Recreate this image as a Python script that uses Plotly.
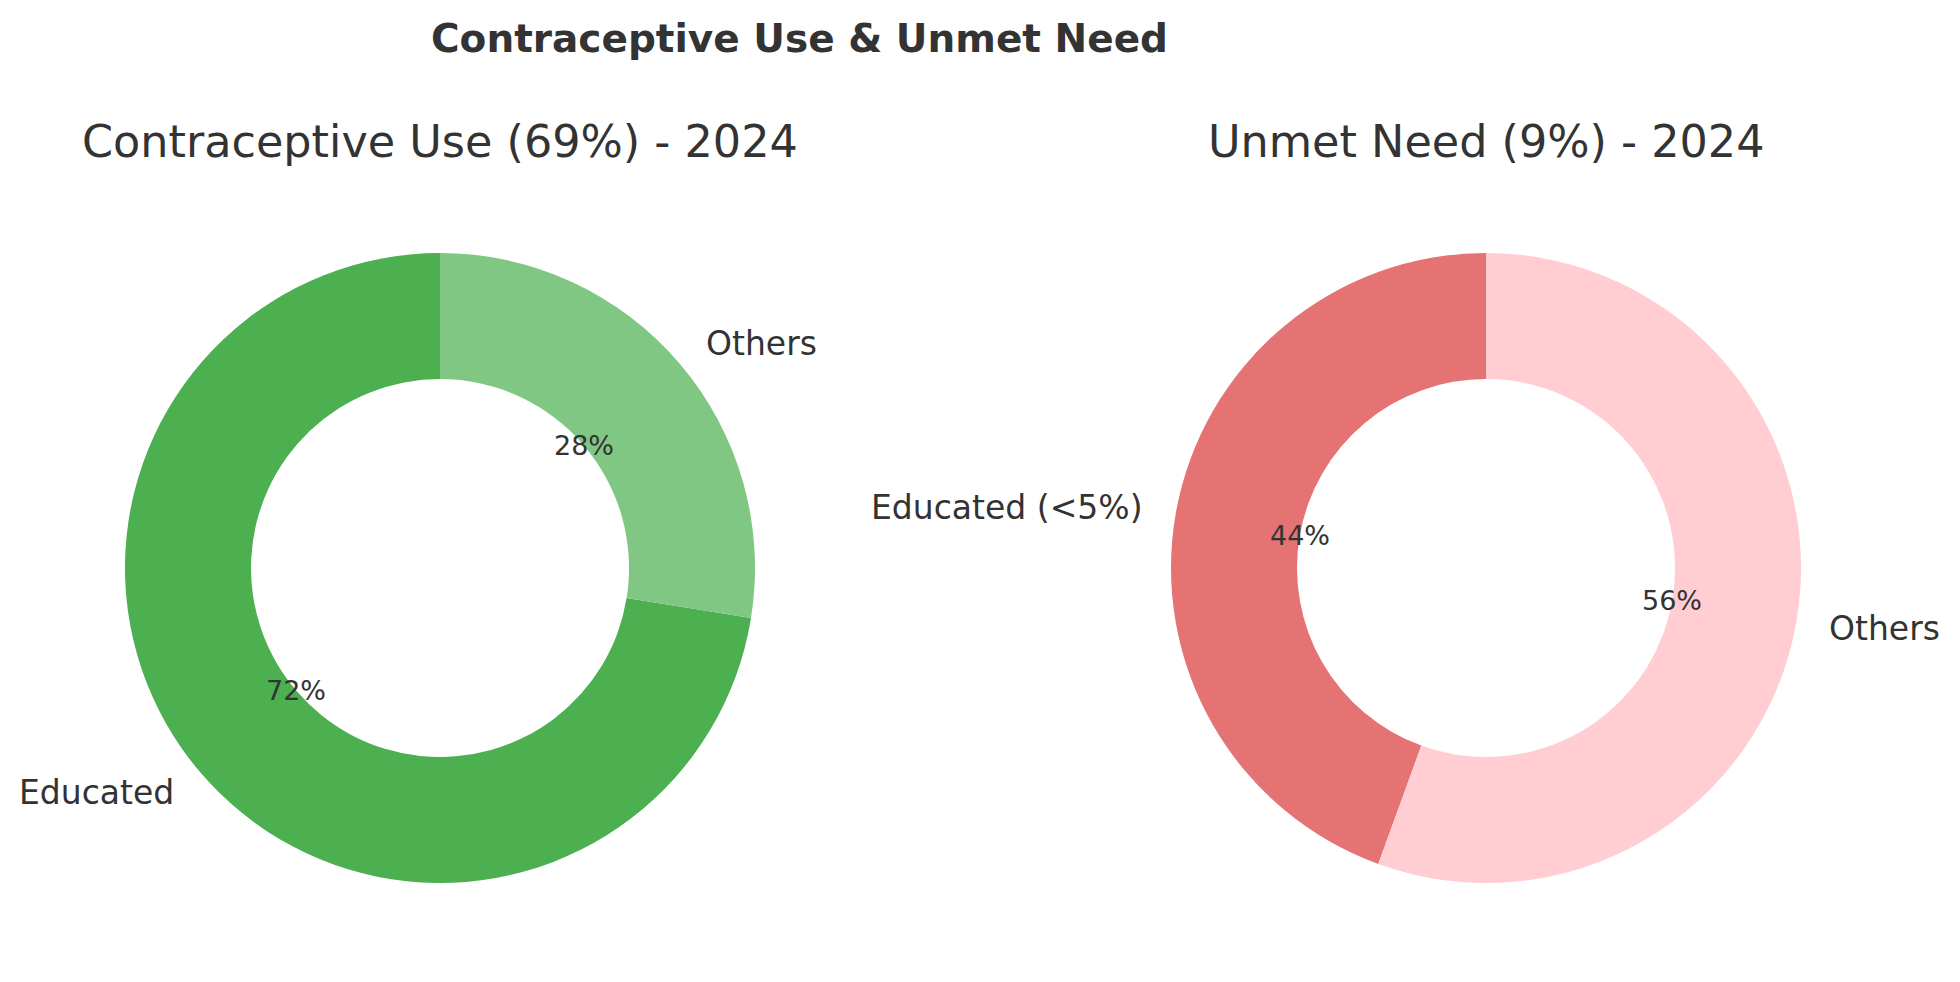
import numpy as np
import plotly.graph_objects as go

# Data
use_labels = ['Educated', 'Others']
use_values = [50, 19]
use_colors = ['#4CAF50', '#81C784']

need_labels = ['Educated (<5%)', 'Others']
need_values = [4, 5]
need_colors = ['#E57373', '#FFCDD2']

title_text = 'Contraceptive Use & Unmet Need'
sub_titles = ['Contraceptive Use (69%) - 2024', 'Unmet Need (9%) - 2024']

# page body has an 8px margin, so the figure is drawn a bit smaller
OFF = 8
W, H = 1960 - 2 * OFF, 982 - 2 * OFF
R = 315                         # outer radius, px
CY = 568 - OFF                  # pie centre from top, px
CX = [440 - OFF, 1486 - OFF]    # pie centres, px
TXT = '#333333'
FONT = 'DejaVu Sans'


def pieDomain(cx, cy, r):
    return dict(x=[(cx - r) / W, (cx + r) / W],
                y=[1 - (cy + r) / H, 1 - (cy - r) / H])


def ringText(labels, values, cx, cy):
    #matplotlib style: labels at 1.1 r, percentages at 0.6 r
    anns = []
    vals = np.array(values, dtype=float)
    frac = vals / vals.sum()
    mids = np.cumsum(frac) - frac / 2
    for lab, f, m in zip(labels, frac, mids):
        th = np.deg2rad(90 + 360 * m)
        c, s = np.cos(th), np.sin(th)
        anns.append(dict(x=(cx + 1.1 * R * c) / W, y=1 - (cy - 1.1 * R * s) / H,
                         text=lab, showarrow=False,
                         xanchor='left' if c > 0 else 'right', yanchor='middle',
                         font=dict(size=33, color=TXT, family=FONT)))
        anns.append(dict(x=(cx + 0.6 * R * c) / W, y=1 - (cy - 0.6 * R * s) / H,
                         text='%1.0f%%' % (f * 100), showarrow=False,
                         xanchor='center', yanchor='middle',
                         font=dict(size=27, color=TXT, family=FONT)))
    return anns


fig = go.Figure()
for labs, vals, cols, cx in [(use_labels, use_values, use_colors, CX[0]),
                             (need_labels, need_values, need_colors, CX[1])]:
    # first slice starts at 12 o'clock and runs counterclockwise
    first_frac = vals[0] / float(sum(vals))
    fig.add_trace(go.Pie(labels=labs, values=vals, hole=0.6, sort=False,
                         direction='clockwise', rotation=360 * (1 - first_frac),
                         marker=dict(colors=cols, line=dict(width=0)),
                         textinfo='none', hoverinfo='label+percent',
                         domain=pieDomain(cx, CY, R), showlegend=False))

annotations = []
annotations += ringText(use_labels, use_values, CX[0], CY)
annotations += ringText(need_labels, need_values, CX[1], CY)
for sub, cx in zip(sub_titles, CX):
    annotations.append(dict(x=cx / W, y=1 - (142 - OFF) / H, text=sub, showarrow=False,
                            xanchor='center', yanchor='middle',
                            font=dict(size=44.5, color=TXT, family=FONT)))

fig.update_layout(width=W, height=H,
                  margin=dict(l=0, r=0, t=0, b=0),
                  paper_bgcolor='white', plot_bgcolor='white',
                  font=dict(family=FONT, color=TXT),
                  title=dict(text='<b>' + title_text + '</b>', x=(431 - OFF) / W, xanchor='left',
                             y=1 - (38 - OFF) / H, yanchor='middle',
                             font=dict(size=39, color=TXT, family=FONT)),
                  annotations=annotations)

fig.write_html("out.html")
